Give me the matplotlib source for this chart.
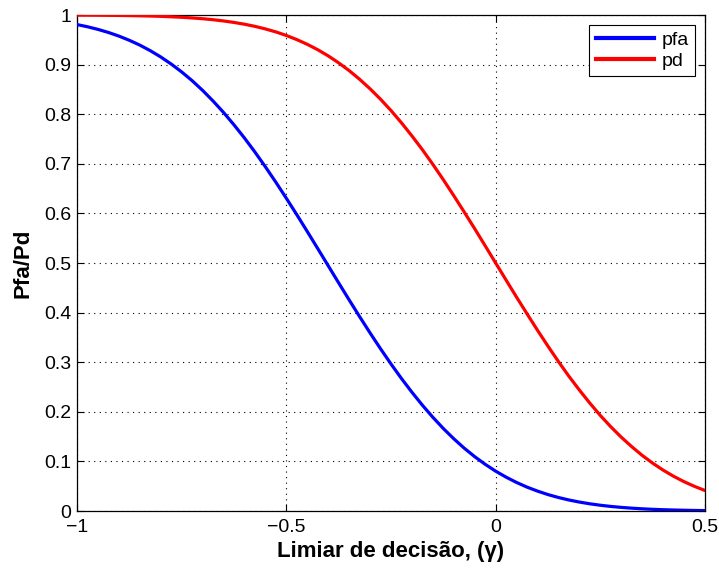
import matplotlib
matplotlib.use("Agg")
import matplotlib.pyplot as plt

gamma = [-1.000, -0.975, -0.950, -0.925, -0.900, -0.875, -0.850, -0.825, -0.800, -0.775,
         -0.750, -0.725, -0.700, -0.675, -0.650, -0.625, -0.600, -0.575, -0.550, -0.525,
         -0.500, -0.475, -0.450, -0.425, -0.400, -0.375, -0.350, -0.325, -0.300, -0.275,
         -0.250, -0.225, -0.200, -0.175, -0.150, -0.125, -0.100, -0.075, -0.050, -0.025,
         0.000, 0.025, 0.050, 0.075, 0.100, 0.125, 0.150, 0.175, 0.200, 0.225,
         0.250, 0.275, 0.300, 0.325, 0.350, 0.375, 0.400, 0.425, 0.450, 0.475, 0.500]
pfa = [0.9807, 0.9763, 0.9710, 0.9648, 0.9575, 0.9490, 0.9393, 0.9281, 0.9154, 0.9011,
       0.8852, 0.8676, 0.8480, 0.8266, 0.8035, 0.7785, 0.7520, 0.7237, 0.6939, 0.6628,
       0.6305, 0.5974, 0.5635, 0.5291, 0.4945, 0.4599, 0.4256, 0.3919, 0.3590, 0.3271,
       0.2964, 0.2671, 0.2394, 0.2133, 0.1889, 0.1663, 0.1456, 0.1266, 0.1095, 0.0941,
       0.0803, 0.0682, 0.0575, 0.0481, 0.0401, 0.0331, 0.0272, 0.0222, 0.0180, 0.0145,
       0.0116, 0.0092, 0.0073, 0.0057, 0.0044, 0.0034, 0.0026, 0.0020, 0.0015, 0.0011, 0.0008]
pd = [0.9997, 0.9996, 0.9995, 0.9993, 0.9991, 0.9988, 0.9984, 0.9979, 0.9973, 0.9964,
      0.9954, 0.9941, 0.9925, 0.9905, 0.9880, 0.9850, 0.9814, 0.9771, 0.9719, 0.9659,
      0.9587, 0.9504, 0.9409, 0.9300, 0.9176, 0.9035, 0.8879, 0.8704, 0.8512, 0.8302,
      0.8074, 0.7826, 0.7562, 0.7284, 0.6988, 0.6679, 0.6357, 0.6026, 0.5690, 0.5346,
      0.5000, 0.4654, 0.4310, 0.3974, 0.3643, 0.3322, 0.3012, 0.2716, 0.2438, 0.2174,
      0.1926, 0.1698, 0.1488, 0.1297, 0.1121, 0.0965, 0.0824, 0.0700, 0.0591, 0.0496, 0.0413]

xticks = [-1, -0.5, 0, 0.5]
xticklabels = ["\u22121", "\u22120.5", "0", "0.5"]
yticks = [0, 0.1, 0.2, 0.3, 0.4, 0.5, 0.6, 0.7, 0.8, 0.9, 1]
yticklabels = ["0", "0.1", "0.2", "0.3", "0.4", "0.5", "0.6", "0.7", "0.8", "0.9", "1"]

plt.rcParams['font.family'] = ['Liberation Sans', 'DejaVu Sans']

fig = plt.figure(figsize=(7.19, 5.68), dpi=100)
ax = fig.add_axes([77/719, 57/568, 628/719, 496/568])

ax.plot(gamma, pfa, color=(0, 0, 1), lw=2.3, label="pfa", zorder=3)
ax.plot(gamma, pd, color=(1, 0, 0), lw=2.3, label="pd", zorder=3)

ax.set_xlim(-1, 0.5)
ax.set_ylim(0, 1)
ax.set_xticks(xticks)
ax.set_xticklabels(xticklabels)
ax.set_yticks(yticks)
ax.set_yticklabels(yticklabels)
ax.tick_params(direction='in', top=True, right=True, length=5, width=0.8,
               labelsize=14, colors='black')
ax.tick_params(axis='x', pad=6)
ax.tick_params(axis='y', pad=4)
ax.grid(True, color='black', linestyle=(0, (1, 4)), linewidth=0.8)
for s in ax.spines.values():
    s.set_linewidth(0.9)
    s.set_color('black')

ax.set_xlabel("Limiar de decisão, (γ)", fontsize=16, fontweight='bold', labelpad=3)
ax.set_ylabel("Pfa/Pd", fontsize=16, fontweight='bold', labelpad=8)

leg = ax.legend(loc='upper right', fontsize=14, frameon=True, fancybox=False,
                edgecolor='black', framealpha=1, handlelength=3.0,
                borderaxespad=0.5, handletextpad=0.35, labelspacing=0.15,
                borderpad=0.35)
leg.get_frame().set_linewidth(0.8)
for line in leg.get_lines():
    line.set_linewidth(3.0)

fig.savefig("out.png", dpi=100)
